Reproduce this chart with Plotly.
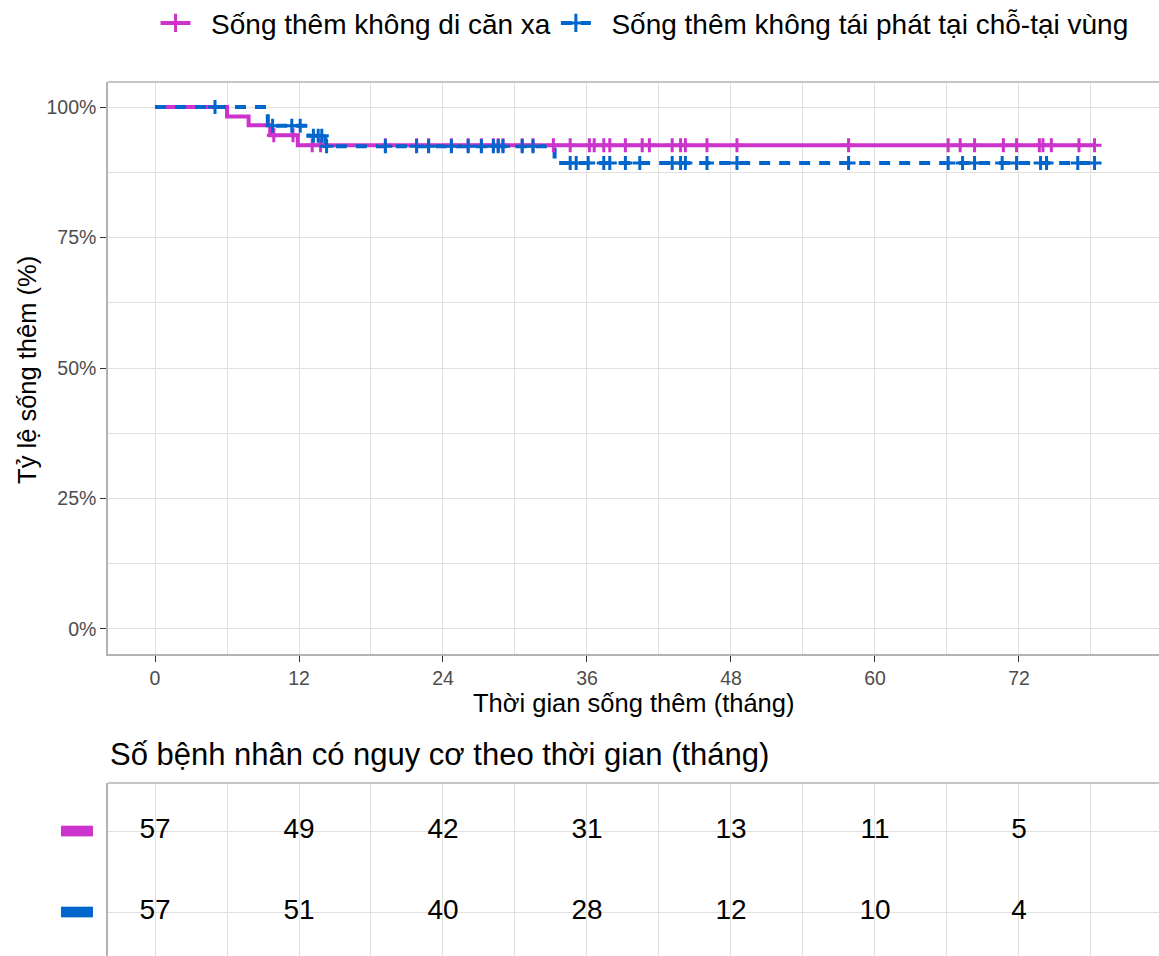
import plotly.graph_objects as go
import numpy as np

# ---- Data -------------------------------------------------------------
series_names = ["Sống thêm không di căn xa", "Sống thêm không tái phát tại chỗ-tại vùng"]
series_colors = ["#CC33CC", "#0066CC"]

# Kaplan-Meier step curves (months, survival %)
dmfs_step_time = [0, 6.0, 7.8, 9.6, 11.9, 78.3]
dmfs_step_surv = [100, 98.2, 96.5, 94.6, 92.7, 92.7]
lrrfs_step_time = [0, 9.4, 12.8, 14.2, 33.3, 78.3]
lrrfs_step_surv = [100, 96.4, 94.5, 92.5, 89.3, 89.3]

# Censoring times (months)
dmfs_censor = [9.9, 11.5, 13.1, 13.8, 19.2, 21.8, 22.8, 24.7, 26.1, 27.2, 28.2, 28.6,
               29.0, 30.6, 31.5, 33.2, 34.6, 36.2, 36.6, 37.4, 37.9, 39.2, 40.6, 41.2,
               43.1, 43.8, 44.2, 46.0, 48.5, 57.8, 66.1, 67.1, 68.3, 70.7, 71.8, 73.7,
               74.0, 74.7, 77.0, 78.3]
lrrfs_censor = [5.0, 9.8, 11.4, 12.1, 13.2, 13.6, 13.9, 14.3, 19.2, 21.8, 22.8, 24.7,
                26.1, 27.2, 28.2, 28.6, 29.0, 30.6, 31.5, 34.6, 35.1, 36.1, 37.4, 37.9,
                39.2, 40.4, 43.1, 43.8, 44.2, 46.0, 48.5, 57.8, 66.1, 67.3, 68.3, 70.6,
                71.8, 73.8, 74.3, 76.9, 78.3]

# Number at risk table
risk_times = [0, 12, 24, 36, 48, 60, 72]
dmfs_at_risk = [57, 49, 42, 31, 13, 11, 5]
lrrfs_at_risk = [57, 51, 40, 28, 12, 10, 4]

y_ticks = [0, 25, 50, 75, 100]
y_tick_labels = ["0%", "25%", "50%", "75%", "100%"]
x_ticks = [0, 12, 24, 36, 48, 60, 72]

FONT = "Liberation Sans, Arial, Helvetica, sans-serif"
X_RANGE = [-3.917, 83.67]
LEGEND_PAD = "\u00a0\u00a0"  # extra room between legend key and label
MAIN_DOMAIN = [0.3455, 1]
TABLE_DOMAIN = [0, 0.1979]


def level_at(step_t, step_s, t):
    idx = np.searchsorted(step_t, t, side="right") - 1
    return step_s[idx]


fig = go.Figure()

curves = [
    (dmfs_step_time, dmfs_step_surv, dmfs_censor, "solid"),
    (lrrfs_step_time, lrrfs_step_surv, lrrfs_censor, "11px,9px"),
]

for (st, ss, cens, dash), color in zip(curves, series_colors):
    fig.add_trace(go.Scatter(
        x=st, y=ss, mode="lines", line=dict(color=color, width=4, shape="hv", dash=dash),
        showlegend=False, hoverinfo="skip", xaxis="x", yaxis="y"))
for (st, ss, cens, dash), color in zip(curves, series_colors):
    fig.add_trace(go.Scatter(
        x=cens, y=[level_at(st, ss, t) for t in cens], mode="markers",
        marker=dict(symbol="cross-thin", size=10, line=dict(color=color, width=3)),
        showlegend=False, hoverinfo="skip", xaxis="x", yaxis="y"))

# Legend entries
for name, color, (_, _, _, dash) in zip(series_names, series_colors, curves):
    fig.add_trace(go.Scatter(
        x=[None], y=[None], mode="lines+markers", name=LEGEND_PAD + name,
        line=dict(color=color, width=4, dash=dash),
        marker=dict(symbol="cross-thin", size=13, line=dict(color=color, width=3))))

# Risk table numbers
for row_y, counts in [(2, dmfs_at_risk), (1, lrrfs_at_risk)]:
    fig.add_trace(go.Scatter(
        x=risk_times, y=[row_y] * len(risk_times), mode="text",
        text=[str(c) for c in counts], textposition="middle center",
        textfont=dict(family=FONT, size=28, color="black"),
        showlegend=False, hoverinfo="skip", xaxis="x2", yaxis="y2"))

grid_col = "#e0e0e0"
border_col = "#b3b3b3"

fig.update_layout(
    width=1159, height=956,
    margin=dict(l=108, r=0, t=82, b=0, pad=0, autoexpand=False),
    paper_bgcolor="white", plot_bgcolor="white",
    font=dict(family=FONT, color="black"),
    showlegend=True,
    legend=dict(orientation="h", x=0.5105, xanchor="center", y=1.0672, yanchor="middle",
                font=dict(family=FONT, size=28, color="black"),
                bgcolor="rgba(0,0,0,0)", itemwidth=30, tracegroupgap=0),
    xaxis=dict(domain=[0, 1], range=X_RANGE, anchor="y",
               tickmode="array", tickvals=x_ticks, ticktext=[str(v) for v in x_ticks],
               ticks="outside", ticklen=6, tickwidth=1, tickcolor="#333333",
               tickfont=dict(family=FONT, size=19.5, color="#4d4d4d"),
               showgrid=True, gridcolor=grid_col, gridwidth=1,
               minor=dict(dtick=6, tick0=0, showgrid=True, gridcolor=grid_col, gridwidth=1, ticks=""),
               showline=True, linecolor=border_col, linewidth=1.5,
               zeroline=False),
    yaxis=dict(domain=MAIN_DOMAIN, range=[-4.8, 104.8], anchor="x",
               tickmode="array", tickvals=y_ticks, ticktext=y_tick_labels,
               ticks="outside", ticklen=6, tickwidth=1, tickcolor="#333333",
               tickfont=dict(family=FONT, size=19.5, color="#4d4d4d"),
               showgrid=True, gridcolor=grid_col, gridwidth=1,
               minor=dict(dtick=12.5, tick0=0, showgrid=True, gridcolor=grid_col, gridwidth=1, ticks=""),
               showline=True, linecolor=border_col, linewidth=1.5,
               zeroline=False),
    xaxis2=dict(domain=[0, 1], range=X_RANGE, anchor="y2",
                tickmode="array", tickvals=x_ticks, showticklabels=False, ticks="",
                showgrid=True, gridcolor=grid_col, gridwidth=1,
                minor=dict(dtick=6, tick0=0, showgrid=True, gridcolor=grid_col, gridwidth=1, ticks=""),
                showline=False, zeroline=False),
    yaxis2=dict(domain=TABLE_DOMAIN, range=[0.457, 2.593], anchor="x2",
                tickmode="array", tickvals=[1, 2], showticklabels=False, ticks="",
                showgrid=True, gridcolor=grid_col, gridwidth=1,
                showline=True, linecolor=border_col, linewidth=1.5,
                zeroline=False),
)

# Top borders of the survival panel and the risk table
for top in (MAIN_DOMAIN[1], TABLE_DOMAIN[1]):
    fig.add_shape(type="line", xref="paper", yref="paper", x0=0, x1=1, y0=top, y1=top,
                  line=dict(color=border_col, width=1.5), layer="above")

# Colour keys for the risk table rows
for row_y, color in [(2, series_colors[0]), (1, series_colors[1])]:
    fig.add_shape(type="rect", xref="paper", yref="y2",
                  x0=-0.0447, x1=-0.0143, y0=row_y - 0.066, y1=row_y + 0.066,
                  fillcolor=color, line=dict(width=0), layer="above")

fig.add_annotation(text="Thời gian sống thêm (tháng)", xref="paper", yref="paper",
                   x=0.5, y=0.2895, xanchor="center", yanchor="middle", showarrow=False,
                   font=dict(family=FONT, size=25.5, color="black"))
fig.add_annotation(text="Tỷ lệ sống thêm (%)", xref="paper", yref="paper",
                   x=-0.0771, y=0.6705, xanchor="center", yanchor="middle", showarrow=False,
                   textangle=-90, font=dict(family=FONT, size=25.5, color="black"))
fig.add_annotation(text="Số bệnh nhân có nguy cơ theo thời gian (tháng)", xref="paper", yref="paper",
                   x=0, y=0.23, xanchor="left", yanchor="middle", showarrow=False,
                   font=dict(family=FONT, size=31, color="black"))

fig.write_html("out.html")
